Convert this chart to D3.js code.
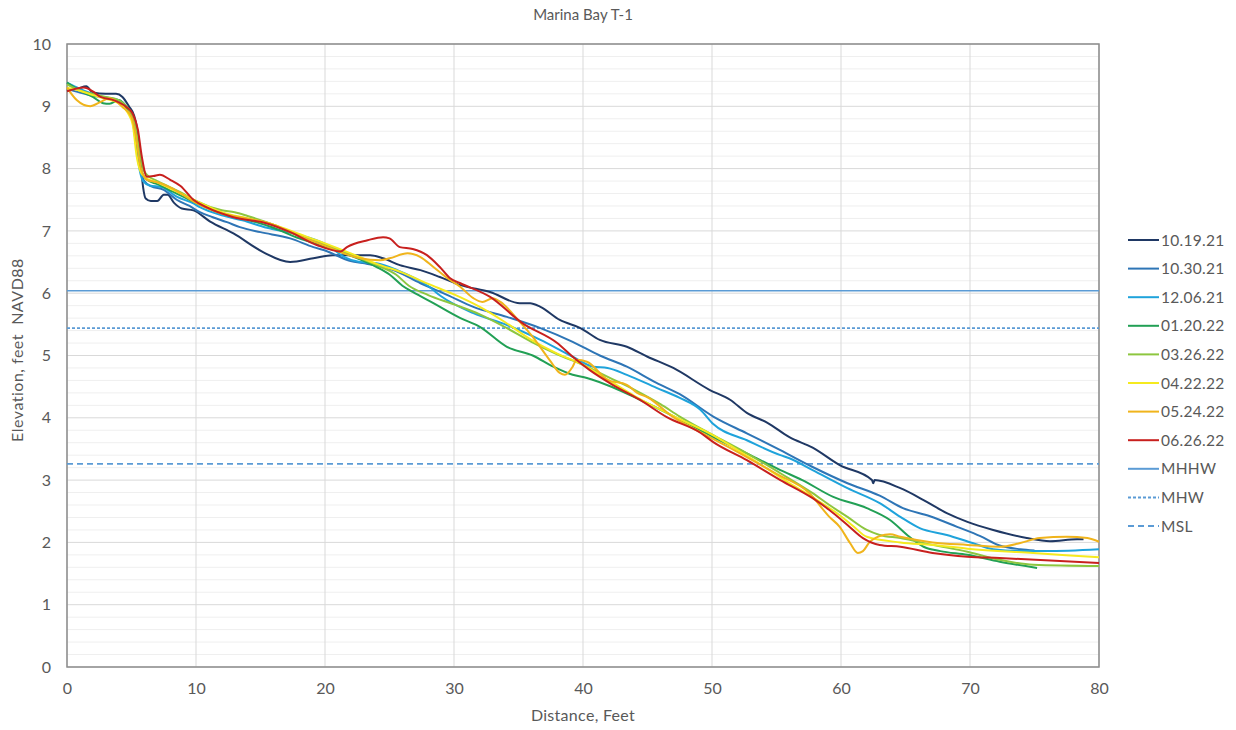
<!DOCTYPE html>
<html>
<head>
<meta charset="utf-8">
<script src="https://cdn.jsdelivr.net/npm/d3@7"></script>
<style>
  html, body { margin: 0; padding: 0; background: #ffffff; }
  svg { display: block; }
  text { font-family: Lato, "Open Sans", sans-serif; fill: #595959; }
</style>
</head>
<body>
<svg id="chart" width="1236" height="730"></svg>
<script>
// Beach profile surveys, Marina Bay transect T-1: [distance ft, elevation ft NAVD88]
const s101921 = [[0,9.25],[0.8,9.28],[1.5,9.32],[2,9.22],[3,9.2],[3.8,9.2],[4.3,9.15],[4.8,9.0],[5.2,8.85],[5.5,8.55],[5.7,8.1],[5.9,7.7],[6.1,7.52],[6.5,7.48],[7.0,7.48],[7.5,7.58],[7.8,7.58],[8.3,7.45],[8.9,7.36],[9.8,7.33],[11.1,7.15],[12.9,6.96],[15.2,6.66],[17.3,6.5],[19.1,6.56],[20.6,6.61],[23.5,6.61],[24.5,6.56],[25.8,6.45],[27.4,6.37],[28.9,6.26],[30.5,6.13],[32.8,6.02],[35.1,5.84],[35.9,5.84],[36.7,5.78],[38.2,5.57],[39.8,5.44],[41.3,5.25],[43.4,5.14],[45,4.98],[47,4.8],[49.8,4.45],[51.4,4.29],[52.7,4.08],[54.3,3.92],[56,3.69],[57.8,3.52],[59.9,3.24],[62.4,3.0],[62.5,2.95],[62.6,3.0],[64.6,2.87],[66.4,2.68],[68.2,2.47],[69.8,2.33],[71.8,2.2],[74.4,2.07],[76.2,2.02],[78.3,2.05],[78.8,2.05]];
const s103021 = [[0,9.28],[1,9.22],[2,9.17],[3,9.14],[4,9.1],[4.6,9.0],[5.1,8.82],[5.4,8.45],[5.7,7.98],[6.0,7.8],[6.5,7.72],[7.5,7.66],[8.5,7.5],[9.5,7.4],[10.3,7.3],[11.3,7.22],[12.4,7.14],[13.4,7.06],[15,6.98],[17.3,6.88],[19.1,6.74],[20.2,6.67],[21.9,6.52],[23.3,6.47],[25.3,6.37],[27.4,6.16],[29.5,5.97],[31.5,5.78],[34.1,5.62],[36.7,5.44],[39.2,5.22],[41.3,5.0],[43.4,4.82],[45.7,4.56],[47.5,4.38],[50.1,4.02],[52.7,3.75],[55.3,3.48],[57.8,3.21],[60.5,2.95],[63,2.75],[64.8,2.55],[66.9,2.42],[69,2.25],[70.8,2.1],[72.3,1.95],[73.9,1.89],[75,1.87]];
const s120621 = [[0,9.38],[1,9.28],[2,9.2],[3,9.13],[4,9.1],[4.7,8.95],[5.1,8.75],[5.4,8.3],[5.66,7.95],[5.9,7.8],[6.4,7.73],[7.4,7.7],[8.5,7.55],[9.8,7.44],[10.3,7.38],[12,7.25],[13.6,7.17],[15.5,7.05],[17.5,6.96],[20.2,6.77],[21.5,6.58],[22.7,6.5],[24,6.48],[25.6,6.37],[28.1,6.1],[29,5.95],[31.5,5.68],[34.1,5.49],[36.7,5.25],[39.2,4.98],[40.8,4.82],[41.9,4.8],[43.4,4.69],[45.7,4.48],[47.5,4.32],[49.1,4.13],[50.1,3.9],[52.7,3.64],[55.3,3.4],[56,3.35],[57.8,3.16],[60.5,2.87],[63,2.63],[64.6,2.41],[66.1,2.23],[68.2,2.12],[70.2,1.99],[71.8,1.89],[73.9,1.86],[75.9,1.86],[80,1.89]];
const s012022 = [[0,9.38],[1,9.25],[2,9.15],[2.8,9.05],[3.3,9.04],[4,9.1],[4.7,8.95],[5.1,8.8],[5.5,8.3],[5.8,7.95],[6.2,7.82],[7,7.75],[8.5,7.6],[10,7.45],[12,7.28],[14,7.18],[16,7.05],[18,6.88],[20,6.75],[22,6.6],[24,6.42],[25,6.3],[26,6.12],[26.8,6.02],[28.4,5.84],[30.5,5.6],[32,5.46],[34.1,5.14],[36.1,5.0],[37.7,4.82],[39.2,4.69],[40.3,4.64],[42.3,4.49],[44.4,4.29],[46.5,4.08],[49.1,3.8],[50.1,3.69],[52.7,3.43],[55.3,3.16],[57,3.0],[59.4,2.73],[62,2.55],[63.8,2.36],[65.3,2.09],[66.4,1.93],[67.7,1.86],[69.8,1.8],[72.3,1.69],[75.2,1.59]];
const s032622 = [[0,9.35],[1,9.25],[2,9.2],[3,9.15],[4,9.1],[4.8,8.95],[5.2,8.8],[5.6,8.3],[5.9,8.0],[6.2,7.9],[7,7.8],[8,7.7],[9,7.6],[10,7.48],[12,7.33],[13,7.3],[14,7.24],[16,7.1],[18,6.92],[20,6.78],[22,6.62],[24,6.45],[25.5,6.3],[26.5,6.12],[28,5.97],[30,5.82],[32,5.66],[34,5.45],[36,5.22],[38,5.02],[40,4.85],[42,4.65],[44,4.45],[46,4.22],[47.5,4.02],[50.1,3.72],[52.7,3.43],[55.3,3.11],[57.8,2.79],[59.1,2.6],[60.5,2.41],[62,2.2],[63,2.12],[64.6,2.07],[67.1,1.96],[69.8,1.85],[72.3,1.72],[74.9,1.64],[80,1.62]];
const s042222 = [[0,9.3],[1,9.25],[2,9.18],[3,9.12],[4,9.05],[4.7,8.9],[5.1,8.7],[5.4,8.2],[5.7,7.95],[6.1,7.85],[7,7.78],[8,7.68],[9,7.58],[10,7.48],[12,7.3],[14,7.2],[16,7.1],[18,6.95],[20,6.8],[22,6.64],[24,6.47],[26,6.33],[28,6.15],[30,5.98],[32,5.78],[34,5.53],[36,5.25],[38,5.03],[40,4.85],[42,4.6],[44,4.35],[46,4.13],[48,3.93],[50,3.73],[52,3.48],[54,3.22],[56,2.95],[58,2.7],[60,2.42],[61,2.25],[62,2.09],[64.6,2.0],[67.1,1.96],[69.8,1.9],[74.9,1.83],[80,1.76]];
const s052422 = [[0,9.3],[0.75,9.1],[1.8,9.0],[2.6,9.07],[3.3,9.13],[4.3,8.99],[5.0,8.83],[5.3,8.57],[5.7,8.03],[6.2,7.82],[7,7.78],[8,7.7],[10,7.45],[12,7.28],[14,7.2],[16,7.1],[18,6.92],[20,6.76],[21.2,6.66],[22.7,6.56],[24.3,6.53],[25,6.56],[26.4,6.64],[27.4,6.58],[28.4,6.42],[29.5,6.24],[30.5,6.1],[31.5,5.92],[32.2,5.86],[33,5.92],[33.6,5.86],[35.1,5.54],[36.1,5.3],[37.4,4.93],[38.2,4.72],[38.6,4.69],[39.2,4.82],[39.5,4.93],[40.3,4.9],[41.9,4.61],[43.4,4.53],[44.2,4.4],[45,4.33],[47,4.01],[49.1,3.77],[52,3.45],[55,3.1],[57.5,2.8],[59.1,2.41],[59.9,2.25],[60.7,1.99],[61.3,1.83],[61.7,1.86],[62.2,2.0],[63,2.1],[63.8,2.13],[64.6,2.09],[67.1,2.0],[69.8,1.96],[72.3,1.93],[73.9,1.99],[75.4,2.07],[77.5,2.09],[79.1,2.07],[80,2.01]];
const s062622 = [[0,9.24],[1.3,9.3],[2,9.24],[2.6,9.15],[3.6,9.1],[4.6,8.99],[5.1,8.88],[5.5,8.62],[5.8,8.19],[6.2,7.87],[6.7,7.88],[7.2,7.9],[8,7.82],[8.8,7.72],[9.8,7.5],[10.8,7.38],[12.9,7.22],[15.5,7.12],[17.3,6.98],[19.4,6.77],[21.2,6.67],[21.7,6.74],[23.3,6.85],[24.5,6.9],[25,6.88],[25.8,6.74],[26.8,6.71],[27.9,6.61],[28.9,6.42],[29.7,6.24],[30.5,6.16],[32.8,5.94],[35.3,5.52],[38,5.2],[39.2,4.98],[40.5,4.77],[42.3,4.53],[44.4,4.29],[46.5,4.01],[49.1,3.76],[50.1,3.61],[52.7,3.32],[55.3,3.0],[57.8,2.71],[59.1,2.52],[60.5,2.28],[61.7,2.07],[63,1.96],[64.6,1.93],[67.1,1.83],[69.8,1.77],[72.3,1.75],[80,1.67]];

const surveyNames = ["10.19.21","10.30.21","12.06.21","01.20.22","03.26.22","04.22.22","05.24.22","06.26.22"];
const surveyColors = ["#1f3864","#2e75b6","#1fa3db","#22a055","#8dc63f","#f5ea1f","#f0b41c","#c8201e"];
const surveys = [s101921, s103021, s120621, s012022, s032622, s042222, s052422, s062622];

// Tidal datums (ft NAVD88)
const datumNames = ["MHHW","MHW","MSL"];
const datumValues = [6.04, 5.44, 3.26];
const datumDash = [null, "3,2", "6,4"];
const datumColor = "#5b9bd5";

const xTicks = [0,10,20,30,40,50,60,70,80];
const yTicks = [0,1,2,3,4,5,6,7,8,9,10];

const svg = d3.select("#chart");
const m = {left: 67, right: 1099, top: 44, bottom: 667};

const x = d3.scaleLinear().domain([0, 80]).range([m.left, m.right]);
const y = d3.scaleLinear().domain([0, 10]).range([m.bottom, m.top]);

// minor horizontal gridlines every 0.2 ft
const minor = d3.range(0, 10.001, 0.2).filter(v => Math.abs(v - Math.round(v)) > 1e-6);
svg.append("g").selectAll("line").data(minor).join("line")
  .attr("x1", m.left).attr("x2", m.right)
  .attr("y1", d => y(d)).attr("y2", d => y(d))
  .attr("stroke", "#efefef").attr("stroke-width", 1);

// major gridlines
svg.append("g").selectAll("line").data(yTicks).join("line")
  .attr("x1", m.left).attr("x2", m.right)
  .attr("y1", d => y(d)).attr("y2", d => y(d))
  .attr("stroke", "#d9d9d9").attr("stroke-width", 1);
svg.append("g").selectAll("line").data(xTicks).join("line")
  .attr("x1", d => x(d)).attr("x2", d => x(d))
  .attr("y1", m.top).attr("y2", m.bottom)
  .attr("stroke", "#d9d9d9").attr("stroke-width", 1);

// axes (labels only, frame drawn separately)
const xAxis = svg.append("g").attr("transform", `translate(0,${m.bottom})`)
  .call(d3.axisBottom(x).tickValues(xTicks).tickSize(0).tickPadding(16));
const yAxis = svg.append("g").attr("transform", `translate(${m.left},0)`)
  .call(d3.axisLeft(y).tickValues(yTicks).tickSize(0).tickPadding(16));
[xAxis, yAxis].forEach(a => {
  a.select(".domain").remove();
  a.selectAll("text").style("font-size", "16px").attr("fill", "#595959")
    .style("font-family", "Lato, 'Open Sans', sans-serif");
});

// plot frame
svg.append("rect")
  .attr("x", m.left).attr("y", m.top)
  .attr("width", m.right - m.left).attr("height", m.bottom - m.top)
  .attr("fill", "none").attr("stroke", "#8c8c8c").attr("stroke-width", 1.5);

// datum lines
svg.append("g").selectAll("line").data(datumValues).join("line")
  .attr("x1", m.left).attr("x2", m.right)
  .attr("y1", d => y(d)).attr("y2", d => y(d))
  .attr("stroke", datumColor).attr("stroke-width", 1.6)
  .attr("stroke-dasharray", (d, i) => datumDash[i]);

// survey profiles
const line = d3.line().x(d => x(d[0])).y(d => y(d[1])).curve(d3.curveMonotoneX);
svg.append("g").selectAll("path").data(surveys).join("path")
  .attr("d", line)
  .attr("fill", "none")
  .attr("stroke", (d, i) => surveyColors[i])
  .attr("stroke-width", 2)
  .attr("stroke-linejoin", "round");

// titles
svg.append("text").attr("x", 583).attr("y", 20).attr("text-anchor", "middle")
  .style("font-size", "15px").text("Marina Bay T-1");
svg.append("text").attr("x", 583).attr("y", 721).attr("text-anchor", "middle")
  .style("font-size", "16px").style("letter-spacing", "0.3px").text("Distance, Feet");
svg.append("text").attr("transform", "translate(23,350) rotate(-90)").attr("text-anchor", "middle")
  .style("font-size", "16px").style("letter-spacing", "0.5px").style("white-space", "pre")
  .text("Elevation, feet  NAVD88");

// legend
const legendItems = surveyNames.map((n, i) => ({name: n, color: surveyColors[i], dash: null}))
  .concat(datumNames.map((n, i) => ({name: n, color: datumColor, dash: datumDash[i]})));
const lg = svg.append("g").selectAll("g").data(legendItems).join("g")
  .attr("transform", (d, i) => `translate(1128,${240 + i * 28.6})`);
lg.append("line").attr("x1", 0).attr("x2", 31).attr("y1", 0).attr("y2", 0)
  .attr("stroke", d => d.color).attr("stroke-width", 2)
  .attr("stroke-dasharray", d => d.dash);
lg.append("text").attr("x", 33).attr("y", 5.5).style("font-size", "15.5px")
  .style("letter-spacing", "0.3px").text(d => d.name);
</script>
</body>
</html>
